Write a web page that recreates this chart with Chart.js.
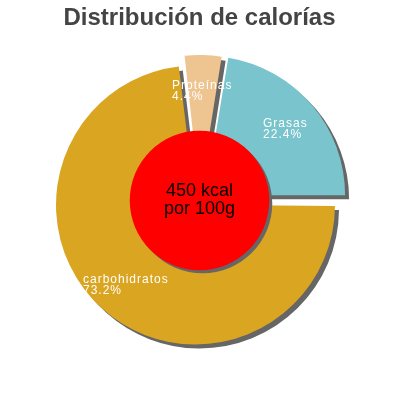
<!DOCTYPE html>
<html>
<head>
<meta charset="utf-8">
<script src="https://cdn.jsdelivr.net/npm/chart.js@4"></script>
<style>
  html, body { margin: 0; padding: 0; background: #fff; }
  #wrap { width: 400px; height: 400px; }
</style>
</head>
<body>
<div id="wrap"><canvas id="c" width="400" height="400"></canvas></div>
<script>
const titleText = 'Distribución de calorías';
const categories = ['carbohidratos', 'Proteínas', 'Grasas'];
const percentValues = [73.2, 4.4, 22.4];
const percentLabels = ['73.2%', '4.4%', '22.4%'];
const sliceColors = ['#DAA520', '#EEC591', '#7AC5CD'];
// explode distance in pixels (Chart.js translates arcs by offset/4)
const explodePx = [6, 6, 8];
const centerLines = ['450 kcal', 'por 100g'];

const HOLE_RATIO = 0.5;

const shadowPlugin = {
  id: 'sliceShadow',
  beforeDatasetsDraw(chart) {
    const ctx = chart.ctx;
    // keep every exploded slice at the same radius (Chart.js otherwise grows it)
    chart.getDatasetMeta(0).data.forEach(a => {
      const off = (a.options.offset || 0) / 4;
      const fix = 1 - Math.sin(Math.min(Math.PI, a.circumference || 0));
      a._radAdj = off * fix;
      a.outerRadius -= a._radAdj;
      a.innerRadius -= a._radAdj;
    });
    ctx.save();
    ctx.shadowColor = '#666666';
    ctx.shadowOffsetX = 4;
    ctx.shadowOffsetY = 4;
    ctx.shadowBlur = 0;
  },
  afterDatasetsDraw(chart) {
    const ctx = chart.ctx;
    ctx.restore();
    const arcs = chart.getDatasetMeta(0).data;
    arcs.forEach(a => {
      a.outerRadius += a._radAdj || 0;
      a.innerRadius += a._radAdj || 0;
      a._radAdj = 0;
    });
    const cx = arcs[0].x, cy = arcs[0].y;
    const holeR = arcs[0].outerRadius * HOLE_RATIO;

    // red centre disc with shadow
    ctx.save();
    ctx.shadowColor = '#666666';
    ctx.shadowOffsetX = 3;
    ctx.shadowOffsetY = 3;
    ctx.shadowBlur = 0;
    ctx.beginPath();
    ctx.arc(cx, cy, holeR, 0, Math.PI * 2);
    ctx.fillStyle = '#FF0000';
    ctx.fill();
    ctx.restore();

    // slice labels (left-aligned block, centred on first line)
    ctx.save();
    ctx.fillStyle = '#FFFFFF';
    ctx.font = '12px "Liberation Sans", Arial, sans-serif';
    ctx.textAlign = 'left';
    ctx.textBaseline = 'alphabetic';
    try { ctx.letterSpacing = '1px'; } catch (e) {}
    arcs.forEach((arc, i) => {
      const mid = (arc.startAngle + arc.endAngle) / 2;
      const r = (holeR + arc.outerRadius) / 2 + (arc.options.offset || 0) / 4;
      const lx = arc.x + Math.cos(mid) * r;
      const ly = arc.y + Math.sin(mid) * r;
      const w = ctx.measureText(categories[i]).width;
      const x0 = lx - w / 2;
      ctx.fillText(categories[i], x0, ly - 0.5);
      ctx.fillText(percentLabels[i], x0, ly + 10.5);
    });
    ctx.restore();

    // centre text
    ctx.save();
    ctx.fillStyle = '#000000';
    ctx.font = '18px "Liberation Sans", Arial, sans-serif';
    ctx.textAlign = 'center';
    ctx.textBaseline = 'alphabetic';
    ctx.fillText(centerLines[0], cx, cy - 4.5);
    ctx.fillText(centerLines[1], cx, cy + 13.5);
    ctx.restore();
  }
};

new Chart(document.getElementById('c'), {
  type: 'doughnut',
  data: {
    labels: categories,
    datasets: [{
      data: percentValues,
      backgroundColor: sliceColors,
      borderWidth: 0,
      offset: explodePx.map(p => p * 4),
      hoverOffset: 0
    }]
  },
  options: {
    responsive: false,
    devicePixelRatio: 1,
    animation: false,
    rotation: 90,
    radius: 139.5,
    cutout: '40%',
    layout: { padding: { left: 0, right: 1, top: 0, bottom: 31.8 } },
    events: [],
    plugins: {
      legend: { display: false },
      tooltip: { enabled: false },
      title: {
        display: true,
        text: titleText,
        color: '#444444',
        font: { family: '"Liberation Sans", Arial, sans-serif', size: 24, weight: 'bold', lineHeight: 1.2 },
        padding: { top: 4, bottom: 0 }
      }
    }
  },
  plugins: [shadowPlugin]
});
</script>
</body>
</html>
